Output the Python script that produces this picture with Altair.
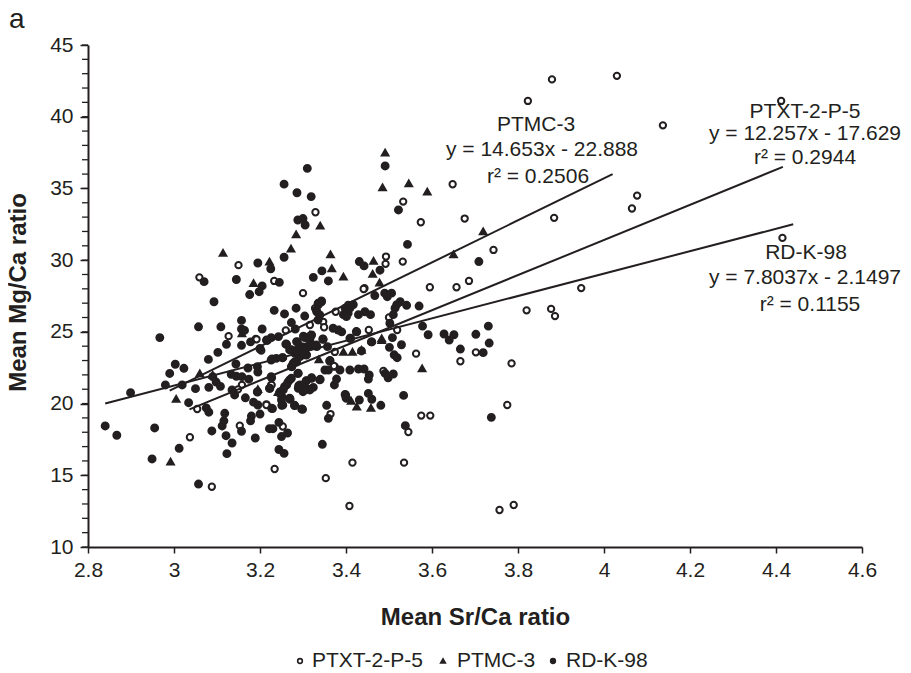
import altair as alt
import pandas as pd

SERIES = ["PTXT-2-P-5", "PTMC-3", "RD-K-98"]
x_ticks = [2.8, 3, 3.2, 3.4, 3.6, 3.8, 4, 4.2, 4.4, 4.6]
y_ticks = [10, 15, 20, 25, 30, 35, 40, 45]
y_minor = [v for v in range(10, 46)]

ptxt = [(3.059,28.8),(3.15,29.65),(3.233,28.55),(3.30,27.7),(3.127,24.7),(3.19,24.5),(3.26,25.1),
 (3.203,23.69),(3.158,21.3),(3.149,20.99),(3.226,21.3),(3.215,19.95),(3.251,19.9),(3.054,19.62),
 (3.153,18.46),(3.253,18.4),(3.037,17.65),(3.234,15.44),(3.088,14.2),
 (3.329,33.34),(3.533,34.08),(3.648,35.29),(3.574,32.64),(3.676,32.9),(3.743,30.71),(3.493,30.25),
 (3.492,29.74),(3.532,29.9),(3.595,28.11),(3.657,28.11),(3.686,28.55),(3.443,28.04),(3.328,26.65),
 (3.347,25.7),(3.349,25.32),(3.316,25.48),(3.376,26.4),(3.405,26.88),(3.5,26),(3.453,25.13),(3.519,25.13),
 (3.563,23.48),(3.666,22.95),(3.702,23.57),(3.785,22.8),(3.775,19.9),(3.374,22.57),(3.374,23.6),
 (3.487,22.27),(3.364,19.27),(3.575,19.16),(3.596,19.16),(3.545,18.02),(3.415,15.88),(3.535,15.88),
 (3.353,14.8),(3.408,12.86),(3.757,12.58),(3.79,12.93),
 (3.823,41.1),(3.879,42.6),(4.03,42.85),(4.412,41.1),(4.137,39.4),(4.065,33.6),(4.077,34.5),
 (3.884,32.95),(4.415,31.55),(3.947,28.05),(3.82,26.5),(3.877,26.6),(3.886,26.1),
 (3.441,27.99),(3.192,24.48),(3.372,22.62),(3.227,21.3),(3.215,19.9),(3.25,19.86)]

ptmc = [(3.114,30.5),(3.284,31.8),(3.272,30.8),(3.222,29.9),(3.185,28.4),(3.158,24.9),
 (3.06,22.1),(3.09,22.0),(3.005,20.32),(2.992,15.95),(3.195,21.0),(3.242,20.8),
 (3.491,37.5),(3.546,35.36),(3.485,35.08),(3.589,34.78),(3.34,32.4),(3.719,32.0),(3.65,30.4),
 (3.364,30.4),(3.367,29.43),(3.394,28.85),(3.464,29.95),(3.462,29.04),(3.478,28.43),(3.316,24.8),
 (3.386,25.13),(3.483,24.55),(3.577,22.46),(3.483,24.43),(3.394,23.6),(3.415,23.6),(3.337,23.08),
 (3.412,20.18),(3.425,19.78),(3.458,19.7),(3.246,20.83),(3.436,23.74)]

rdk = [(3.31,36.4),(3.256,35.3),(3.286,34.7),(3.288,32.8),(3.30,32.9),(3.305,32.45),(3.256,30.2),
 (3.195,29.8),(3.225,29.4),(3.145,28.65),(3.07,28.5),(3.245,28.45),(3.205,28.2),(3.198,27.8),
 (3.176,27.6),(3.093,27.1),(3.233,26.5),(3.257,26.25),(3.284,26.65),(3.304,26.1),(3.157,25.8),
 (3.057,25.35),(3.109,25.35),(3.157,25.2),(3.164,25.1),(3.205,25.2),(3.273,25.65),(3.282,25.2),
 (2.967,24.6),(3.122,24.13),(3.157,24.06),(3.178,24.3),(3.217,24.4),(3.226,24.6),(3.243,24.67),
 (3.20,23.8),(3.102,23.57),(3.08,23.08),(3.26,24.15),(3.287,24.3),(3.273,23.75),(3.296,23.85),
 (3.288,23.45),(3.304,23.4),(3.003,22.74),(3.023,22.46),(2.99,22.1),(3.144,22.76),(3.172,22.48),
 (3.194,22.57),(3.195,22.2),(3.226,23.04),(3.238,23.15),(3.253,23.2),(3.277,22.8),(3.285,22.9),
 (3.274,22.57),(3.133,22.04),(3.145,21.9),(3.158,21.88),(3.174,21.7),(3.09,21.88),(3.098,21.5),
 (3.108,21.2),(2.98,21.3),(3.019,21.3),(2.899,20.76),(3.05,21.04),(3.081,21.13),(3.226,21.88),
 (3.288,22.1),(3.308,21.6),(3.265,21.5),(3.273,21.76),(3.257,21.18),(3.29,21.25),(3.3,21),
 (3.222,21.06),(3.135,20.95),(3.141,20.6),(3.194,20.8),(3.166,20.4),(3.246,20.8),(3.251,20.48),
 (3.27,20.3),(3.034,20.06),(3.185,20.1),(3.195,19.9),(3.253,19.9),(3.28,19.88),(3.299,19.6),
 (3.229,19.65),(3.075,19.7),(3.081,19.4),(3.2,19.27),(3.118,19.32),(3.18,19.13),(3.178,18.8),
 (3.116,18.8),(3.112,18.44),(3.244,18.69),(3.222,18.25),(3.23,18.25),(2.84,18.44),(2.955,18.3),
 (2.867,17.79),(3.088,18.09),(3.157,18.07),(3.121,17.76),(3.189,17.6),(3.25,17.7),(3.264,17.95),
 (3.135,17.25),(3.012,16.88),(3.244,16.8),(3.256,16.53),(3.123,16.51),(2.949,16.14),(3.057,14.39),
 (3.319,34.43),(3.491,36.57),(3.522,33.5),(3.543,31.1),(3.709,29.9),(3.344,29.25),(3.324,28.8),
 (3.359,28.55),(3.431,29.9),(3.442,29.6),(3.479,29.3),(3.343,27.1),(3.336,26.9),(3.332,26.4),
 (3.467,27.53),(3.49,27.7),(3.506,27.7),(3.496,27.45),(3.526,27.1),(3.518,26.9),(3.514,26.65),
 (3.541,26.85),(3.57,26.8),(3.398,26.65),(3.409,26.65),(3.394,26.2),(3.405,26.3),(3.417,26.9),
 (3.429,26.2),(3.444,26.4),(3.457,26.2),(3.51,26.2),(3.502,25.6),(3.578,25.4),(3.731,25.4),
 (3.425,25),(3.37,25.25),(3.382,25.13),(3.591,24.8),(3.628,24.85),(3.651,24.8),(3.702,24.83),
 (3.409,24.55),(3.316,24.7),(3.301,24.7),(3.346,24.5),(3.64,24.43),(3.733,24.22),(3.666,23.8),
 (3.719,23.55),(3.46,24.3),(3.508,24.6),(3.529,24.1),(3.501,23.92),(3.512,23.4),(3.519,23.2),
 (3.411,24.55),(3.347,24.48),(3.332,23.97),(3.357,23.97),(3.316,23.97),(3.297,23.97),(3.308,23.4),
 (3.436,23.67),(3.363,23),(3.351,22.34),(3.359,22.34),(3.386,22.34),(3.409,22.34),(3.429,22.41),
 (3.442,22.41),(3.454,22),(3.452,21.71),(3.491,22.1),(3.498,21.8),(3.51,22.06),(3.378,21.71),
 (3.373,21.3),(3.34,21.69),(3.32,21.8),(3.307,21.57),(3.324,21.13),(3.312,21),(3.398,20.64),
 (3.4,20.41),(3.452,20.71),(3.46,20.3),(3.431,20.25),(3.534,20.57),(3.481,19.88),(3.355,19.88),
 (3.359,18.97),(3.738,19.04),(3.538,18.46),(3.345,17.16),
 (3.343,27.15),(3.335,26.99),(3.331,26.53),(3.339,26.18),(3.335,25.83),(3.401,26.06),(3.39,25),
 (3.424,25.02),(3.459,24.3),(3.215,24.43),(3.2,23.85),(3.285,24.32),(3.304,24.6),(3.32,24.78),
 (3.316,24.43),(3.262,24.13),(3.269,23.74),(3.289,23.85),(3.308,23.97),(3.331,24.09),(3.281,23.5),
 (3.293,23.27),(3.308,23.39),(3.228,23.11),(3.252,23.2),(3.281,22.92),(3.273,22.58),(3.362,22.97),
 (3.289,22.11),(3.227,21.8),(3.269,21.65),(3.262,21.3),(3.254,20.95),(3.246,20.72),(3.293,21.3),
 (3.304,21.07),(3.32,21.76),(3.339,21.65),(3.316,20.95),(3.289,21.07),(3.3,20.83),(3.194,20.83),
 (3.223,21.07),(3.269,20.37),(3.281,19.86),(3.25,20.25),(3.297,19.62),(3.227,19.67),(3.399,20.6),
 (3.401,20.37)]

line_series = ["PTMC-3", "PTMC-3", "PTXT-2-P-5", "PTXT-2-P-5", "RD-K-98", "RD-K-98"]
line_x = [2.99, 4.02, 3.036, 4.416, 2.84, 4.44]
line_y = [20.9, 36.0, 19.6, 36.5, 20.0, 32.5]

rows = []
for name, pts in zip(SERIES, (ptxt, ptmc, rdk)):
    rows += [{"x": a, "y": b, "series": name} for a, b in pts]
points = pd.DataFrame(rows)
lines = pd.DataFrame({"series": line_series, "x": line_x, "y": line_y})

FONT = "Liberation Sans"
INK = "#231f20"
x_scale = alt.Scale(domain=[2.8, 4.6], nice=False, zero=False)
y_scale = alt.Scale(domain=[10, 45], nice=False, zero=False)
shape_scale = alt.Scale(domain=SERIES, range=["circle", "triangle-up", "circle"])
fill_scale = alt.Scale(domain=SERIES, range=["white", INK, INK])
size_scale = alt.Scale(domain=SERIES, range=[40, 48, 38])

scatter = alt.Chart(points).mark_point(filled=True, opacity=1, stroke=INK, strokeWidth=2).encode(
    x=alt.X("x:Q", scale=x_scale, axis=alt.Axis(
        values=x_ticks, title="Mean Sr/Ca ratio", grid=False, tickSize=6, tickColor=INK, tickWidth=1.5,
        domainColor=INK, domainWidth=2, labelColor=INK, labelFont=FONT, labelFontSize=21, labelPadding=6,
        labelExpr="format(datum.value, '.1~f')", labelOverlap=False, labelFlush=False,
        titleFont=FONT, titleFontSize=24, titleFontWeight="bold", titleColor=INK, titleY=58)),
    y=alt.Y("y:Q", scale=y_scale, axis=alt.Axis(
        values=y_ticks, title="Mean Mg/Ca ratio", grid=False, tickSize=8, tickColor=INK, tickWidth=1.5,
        domainColor=INK, domainWidth=2, labelColor=INK, labelFont=FONT, labelFontSize=21, labelPadding=7,
        titleFont=FONT, titleFontSize=24, titleFontWeight="bold", titleColor=INK, titleX=-58, titleY=247)),
    shape=alt.Shape("series:N", scale=shape_scale, legend=None),
    fill=alt.Fill("series:N", scale=fill_scale, legend=None),
    size=alt.Size("series:N", scale=size_scale, legend=None),
    order=alt.Order("rank:Q"),
).transform_calculate(rank="indexof(['PTXT-2-P-5','PTMC-3','RD-K-98'], datum.series)")

minor = alt.Chart(pd.DataFrame({"y": y_minor})).mark_rule(color=INK, strokeWidth=1.3).encode(
    x=alt.value(-6), x2=alt.value(0), y=alt.Y("y:Q", scale=y_scale))

trend = alt.Chart(lines).mark_line(color=INK, strokeWidth=2).encode(
    x=alt.X("x:Q", scale=x_scale), y=alt.Y("y:Q", scale=y_scale), detail="series:N")

labels = [
    ("PTMC-3", 536, 125), ("y = 14.653x - 22.888", 542, 150), ("r\u00b2 = 0.2506", 538, 177),
    ("PTXT-2-P-5", 805, 112), ("y = 12.257x - 17.629", 805, 134), ("r\u00b2 = 0.2944", 805, 158),
    ("RD-K-98", 806, 253), ("y = 7.8037x - 2.1497", 805, 278), ("r\u00b2 = 0.1155", 810, 305),
]
text_layers = [
    alt.Chart(pd.DataFrame({"t": [t]})).mark_text(
        font=FONT, fontSize=21, color=INK, align="center", baseline="middle", x=px - 88, y=py - 45
    ).encode(text="t:N")
    for t, px, py in labels
]
panel_letter = alt.Chart(pd.DataFrame({"t": ["a"]})).mark_text(
    font=FONT, fontSize=28, color=INK, align="left", baseline="alphabetic", x=-79, y=-17
).encode(text="t:N")

# key below the plot: one symbol and one label per series
key_layers = []
for name, sym_px, txt_px in zip(SERIES, (300, 443, 553), (312, 457, 566)):
    row = pd.DataFrame({"series": [name]})
    key_layers.append(alt.Chart(row).mark_point(
        filled=True, opacity=1, stroke=INK, strokeWidth=1.6, size=22, x=sym_px - 88, y=616
    ).encode(shape=alt.Shape("series:N", scale=shape_scale, legend=None),
             fill=alt.Fill("series:N", scale=fill_scale, legend=None)))
    key_layers.append(alt.Chart(row).mark_text(
        font=FONT, fontSize=21, color=INK, align="left", baseline="middle", x=txt_px - 88, y=616
    ).encode(text="series:N"))

chart = alt.layer(scatter, minor, trend, *text_layers, panel_letter, *key_layers).properties(
    width=774, height=502,
    autosize=alt.AutoSizeParams(type="none"),
    padding={"left": 80, "top": 37, "right": 41, "bottom": 126},
    background="white",
).configure_view(stroke=None)

chart.save("out.html", embed_options={"renderer": "svg", "actions": False})
